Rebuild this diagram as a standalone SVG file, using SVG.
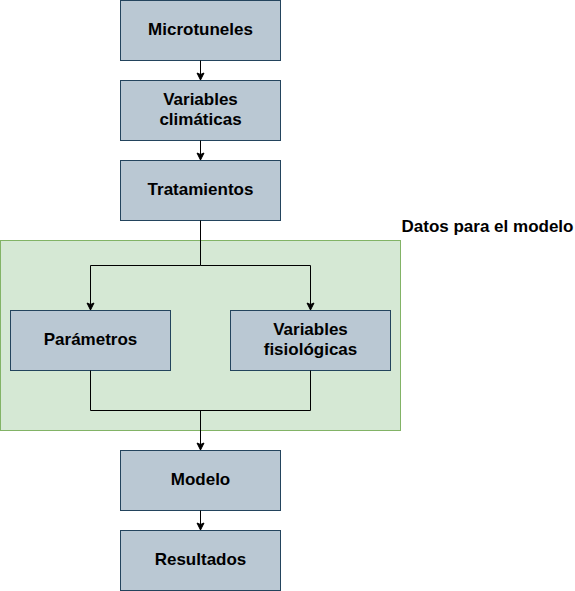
<svg xmlns="http://www.w3.org/2000/svg" width="575" height="591" viewBox="0 0 575 591">
<defs>
<marker id="arr" markerWidth="10" markerHeight="10" refX="8" refY="5" orient="auto" markerUnits="userSpaceOnUse">
<path d="M1,1.5 L8,5 L1,8.5 L2.5,5 Z" fill="#000" stroke="#000" stroke-width="1"/>
</marker>
<style>
.box{fill:#bac8d3;stroke:#23445d;stroke-width:1}
.grp{fill:#d5e8d4;stroke:#82b366;stroke-width:1}
.t{font-family:"Liberation Sans",Arial,sans-serif;font-weight:bold;font-size:17px;fill:#000;text-anchor:middle}
.e{fill:none;stroke:#000;stroke-width:1}
</style>
</defs>
<rect width="575" height="591" fill="#fff"/>
<g id="grupo">
<rect class="grp" x="0.5" y="240.5" width="400" height="190"/>
<text class="t" x="487.5" y="232">Datos para el modelo</text>
</g>
<g id="microtuneles"><rect class="box" x="120.5" y="0.5" width="160" height="60"/><text class="t" x="200.5" y="35">Microtuneles</text></g>
<g id="variables-climaticas"><rect class="box" x="120.5" y="80.5" width="160" height="60"/><text class="t" x="200.5" y="105">Variables</text><text class="t" x="200.5" y="125">climáticas</text></g>
<g id="tratamientos"><rect class="box" x="120.5" y="160.5" width="160" height="60"/><text class="t" x="200.5" y="195">Tratamientos</text></g>
<g id="parametros"><rect class="box" x="10.5" y="310.5" width="160" height="60"/><text class="t" x="90.5" y="345">Parámetros</text></g>
<g id="variables-fisiologicas"><rect class="box" x="230.5" y="310.5" width="160" height="60"/><text class="t" x="310.5" y="335">Variables</text><text class="t" x="310.5" y="355">fisiológicas</text></g>
<g id="modelo"><rect class="box" x="120.5" y="450.5" width="160" height="60"/><text class="t" x="200.5" y="485">Modelo</text></g>
<g id="resultados"><rect class="box" x="120.5" y="530.5" width="160" height="60"/><text class="t" x="200.5" y="565">Resultados</text></g>
<g id="connectors">
<path class="e" d="M200.5,60.5 V80" marker-end="url(#arr)"/>
<path class="e" d="M200.5,140.5 V160" marker-end="url(#arr)"/>
<path class="e" d="M200.5,220.5 V265.5 H90.5 V310" marker-end="url(#arr)"/>
<path class="e" d="M200.5,265.5 H310.5 V310" marker-end="url(#arr)"/>
<path class="e" d="M90.5,370.5 V410.5 H310.5 V370.5"/>
<path class="e" d="M200.5,410.5 V450" marker-end="url(#arr)"/>
<path class="e" d="M200.5,510.5 V530" marker-end="url(#arr)"/>
</g>
</svg>
